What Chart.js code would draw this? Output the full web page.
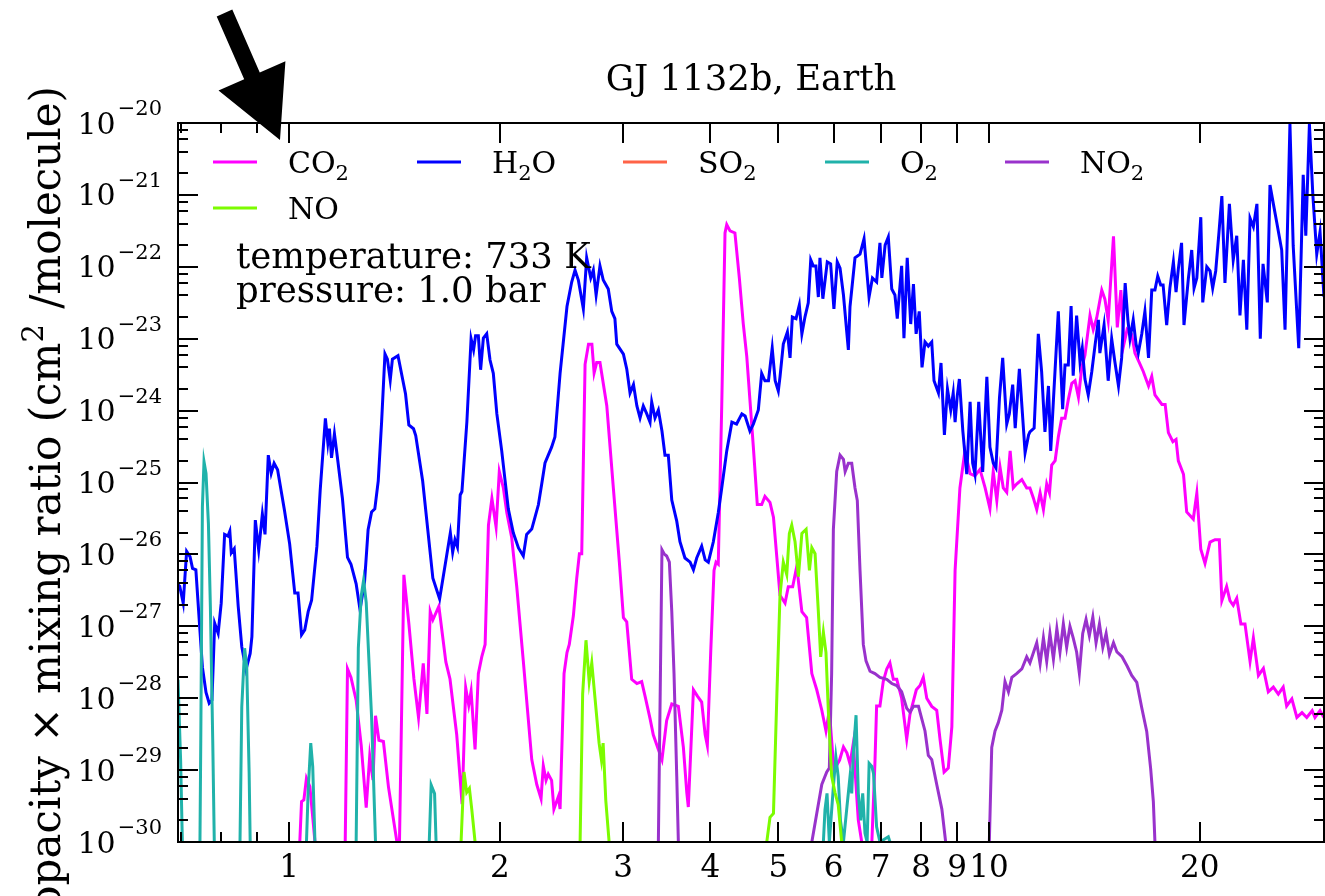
<!DOCTYPE html>
<html>
<head>
<meta charset="utf-8">
<script src="https://cdn.jsdelivr.net/npm/chart.js@4.4.1/dist/chart.umd.min.js"></script>
<style>
  html, body { margin: 0; padding: 0; background: #fff; }
  #wrap { width: 1325px; height: 896px; }
</style>
</head>
<body>
<div id="wrap"><canvas id="chart" width="1325" height="896"></canvas></div>
<script>
// wavelength in micron, opacity x mixing ratio in cm^2/molecule; null = gap (below plot)
const h2oWave = [
  0.694,0.698,0.706,0.714,0.722,0.728,0.736,0.752,0.761,0.769,
  0.776,0.783,0.792,0.800,0.809,0.818,0.823,0.827,0.835,0.846,
  0.856,0.868,0.880,0.885,0.895,0.905,0.916,0.924,0.934,0.943,
  0.952,0.963,0.985,1.002,1.019,1.030,1.042,1.053,1.065,1.077,
  1.096,1.108,1.127,1.136,1.142,1.150,1.161,1.172,1.192,1.212,
  1.226,1.247,1.263,1.282,1.297,1.312,1.326,1.341,1.356,1.371,
  1.382,1.395,1.405,1.431,1.467,1.483,1.506,1.517,1.552,1.605,
  1.641,1.678,1.700,1.713,1.726,1.740,1.756,1.766,1.795,1.820,
  1.835,1.847,1.864,1.878,1.895,1.916,1.937,1.958,1.981,2.013,
  2.035,2.057,2.091,2.127,2.161,2.185,2.222,2.246,2.271,2.296,
  2.321,2.346,2.372,2.398,2.439,2.495,2.534,2.562,2.590,2.633,
  2.662,2.698,2.721,2.746,2.781,2.811,2.858,2.891,2.921,2.939,
  3.004,3.037,3.070,3.105,3.140,3.173,3.207,3.244,3.279,3.297,
  3.333,3.370,3.410,3.444,3.482,3.522,3.580,3.618,3.678,3.741,
  3.782,3.823,3.886,3.931,3.972,4.038,4.104,4.151,4.220,4.292,
  4.359,4.435,4.483,4.554,4.606,4.682,4.734,4.785,4.841,4.901,
  4.949,5.000,5.028,5.083,5.152,5.197,5.236,5.300,5.358,5.403,
  5.458,5.518,5.563,5.609,5.658,5.704,5.734,5.789,5.874,5.939,
  6.004,6.070,6.126,6.195,6.296,6.330,6.435,6.542,6.629,6.739,
  6.815,6.909,6.985,7.029,7.105,7.180,7.262,7.338,7.395,7.502,
  7.559,7.641,7.729,7.799,7.868,7.949,8.022,8.101,8.190,8.283,
  8.345,8.467,8.539,8.635,8.722,8.817,8.889,8.944,9.008,9.071,
  9.175,9.294,9.397,9.476,9.548,9.667,9.794,9.929,10.03,10.14,
  10.23,10.35,10.46,10.60,10.69,10.81,10.90,11.05,11.26,11.39,
  11.44,11.60,11.76,11.89,12.02,12.16,12.25,12.36,12.56,12.74,
  12.84,12.98,13.10,13.19,13.34,13.49,13.59,13.71,13.86,14.02,
  14.18,14.33,14.40,14.60,14.80,14.97,15.13,15.31,15.47,15.65,
  15.79,15.90,16.07,16.22,16.34,16.53,16.70,16.90,17.08,17.26,
  17.42,17.59,17.73,17.94,18.13,18.34,18.50,18.64,18.84,18.99,
  19.27,19.48,19.63,19.81,20.07,20.20,20.47,20.69,20.87,21.08,
  21.31,21.51,21.73,22.05,22.33,22.59,22.83,23.09,23.35,23.60,
  23.86,24.14,24.41,24.63,24.98,25.20,25.48,25.76,26.19,26.48,
  26.91,27.20,27.70,28.11,28.35,28.69,29.01,29.39,29.71,30.10
];
const h2oOpac = [
  3.8e-27,3.6e-27,2.1e-27,1.1e-26,9.3e-27,6.4e-27,6.1e-27,2.7e-28,1.2e-28,8.5e-29,
  9.4e-29,1.1e-27,8.0e-28,2.1e-27,1.9e-26,1.8e-26,2.1e-26,1.05e-26,1.2e-26,1.9e-27,
  5.2e-28,2.5e-28,4.2e-28,7.2e-28,3.0e-26,1.15e-26,3.65e-26,1.9e-26,2.4e-25,1.34e-25,
  1.85e-25,1.5e-25,4.1e-26,1.4e-26,2.9e-27,2.9e-27,7.6e-28,8.9e-28,1.6e-27,2.3e-27,
  1.3e-26,7.9e-26,7.8e-25,3.6e-25,5.6e-25,2.2e-25,4.75e-25,2.3e-25,6.0e-26,9.1e-27,
  7.3e-27,3.9e-27,1.7e-27,4.2e-27,2.2e-26,3.9e-26,4.3e-26,1.05e-25,7.0e-25,6.15e-24,
  5.2e-24,2.65e-24,5.2e-24,5.8e-24,1.7e-24,6.3e-25,5.6e-25,4.5e-25,1.05e-25,4.65e-27,
  2.4e-27,9.1e-27,2.0e-26,1.07e-26,1.6e-26,1.27e-26,6.7e-26,7.5e-26,7.0e-25,1.0e-23,
  7.0e-24,1.1e-23,1.1e-23,3.7e-24,1.02e-23,1.17e-23,5.05e-24,3.3e-24,9.0e-25,2.75e-25,
  1.08e-25,4.3e-26,2.0e-26,1.23e-26,9.5e-27,1.9e-26,2.25e-26,3.3e-26,4.9e-26,9.5e-26,
  1.87e-25,2.4e-25,3.1e-25,4.3e-25,3.3e-24,2.8e-23,6.15e-23,9.0e-23,6.55e-23,2.6e-23,
  1.33e-22,7.0e-23,9.0e-23,4.05e-23,1.03e-22,6.55e-23,4.9e-23,2.4e-23,1.9e-23,8.4e-24,
  6.1e-24,3.8e-24,1.76e-24,2.3e-24,1.16e-24,7.9e-25,1.16e-24,9.0e-25,6.9e-25,1.32e-24,
  7.9e-25,1.02e-24,5.2e-25,2.4e-25,2.4e-25,5.7e-26,2.9e-26,1.5e-26,8.9e-27,7.8e-27,
  6.1e-27,8.9e-27,1.3e-26,8.4e-27,7.8e-27,1.5e-26,3.8e-26,8.4e-26,2.75e-25,6.9e-25,
  6.5e-25,9.0e-25,8.4e-25,5.2e-25,6.5e-25,1.02e-24,3.3e-24,2.6e-24,2.6e-24,7.4e-24,
  2.6e-24,1.87e-24,2.95e-24,8.4e-24,1.24e-23,5.4e-24,2.0e-23,1.9e-23,2.95e-23,1.16e-23,
  2.0e-23,3.15e-23,1.25e-22,1.03e-22,1.03e-22,3.8e-23,1.33e-22,3.6e-23,1.17e-22,1.1e-22,
  2.6e-23,1.17e-22,9.6e-23,4.05e-23,7.0e-24,2.8e-23,1.33e-22,1.5e-22,2.45e-22,3.8e-23,
  7.0e-23,6.15e-23,2.15e-22,7.0e-23,2.0e-22,2.6e-22,4.9e-23,4.05e-23,1.9e-23,1.03e-22,
  1.02e-23,1.33e-22,1.6e-23,5.75e-23,1.17e-23,2.4e-23,4.0e-24,9.0e-24,7.9e-24,9.0e-24,
  2.6e-24,1.76e-24,4.6e-24,4.6e-25,2.0e-24,1.02e-24,1.76e-24,6.9e-25,1.6e-24,2.75e-24,
  5.2e-25,1.31e-25,1.32e-24,1.87e-25,1.31e-25,1.32e-24,1.4e-25,2.95e-24,3.1e-25,1.87e-25,
  1.6e-25,1.5e-24,5.4e-24,6.5e-25,9.0e-25,2.3e-24,5.7e-25,3.8e-24,2.6e-25,4.6e-25,
  5.05e-25,5.7e-25,1.17e-23,3.45e-24,5.05e-25,2.2e-24,2.75e-25,1.4e-24,2.4e-23,1.05e-24,
  4.3e-24,4.3e-24,2.85e-23,3.05e-24,2.1e-23,4.75e-24,7.4e-24,2.75e-24,1.65e-24,3.45e-24,
  8.4e-24,1.83e-23,6.3e-24,1.55e-23,2.6e-24,1.0e-23,4.75e-24,2.2e-24,5.4e-24,5.95e-23,
  1.83e-23,1.0e-23,1.83e-23,8.4e-24,6.3e-24,1.17e-23,2.4e-23,5.4e-24,4.75e-23,4.75e-23,
  7.45e-23,5.6e-23,5.6e-23,1.55e-23,5.05e-23,1.17e-22,4.45e-23,9.3e-23,2.15e-22,1.55e-23,
  7.0e-23,1.71e-22,5.05e-23,7.0e-23,4.9e-22,3.2e-23,1.0e-22,8.75e-23,5.05e-23,8.75e-23,
  3.05e-22,9.65e-22,5.95e-23,7.5e-22,1.25e-22,2.7e-22,2.1e-23,1.25e-22,1.33e-23,4.75e-22,
  3.6e-22,7.5e-22,1.0e-23,1.1e-22,3.2e-23,1.37e-21,7.5e-22,4.2e-22,1.71e-22,1.33e-23,
  9.7e-21,1.95e-22,7.4e-24,1.9e-21,2.7e-22,9.7e-21,1.03e-21,1.5e-22,3.05e-22,3.8e-23
];

const co2Wave = [
  1.036,1.042,1.050,1.059,1.071,1.083,1.089, null,
  1.203,1.212,1.226,1.247,1.268,1.289,1.304,1.318,1.329,1.344,1.364,1.387,1.426, null,
  1.438,1.459,1.483,1.508,1.531,1.555,1.574,1.591,1.605,1.637,
  1.675,1.698,1.736,1.767,1.788,1.806,1.820,1.844,1.864,1.885,
  1.906,1.927,1.949,1.976,1.997,2.024,2.047,2.080,2.115,2.161,
  2.222,2.259,2.291,2.308,2.329,2.346,2.372,2.390,2.425,2.439,
  2.471,2.495,2.514,2.548,2.576,2.599,2.619,2.648,2.678,2.708,
  2.728,2.751,2.781,2.844,2.906,2.964,3.004,3.037,3.087,3.140,
  3.190,3.225,3.279,3.314,3.370,3.410,3.463,3.522,3.599,3.659,
  3.700,3.719,3.782,3.830,3.886,3.931,3.959,4.003,4.047,4.074,
  4.104,4.151,4.196,4.220,4.266,4.335,4.399,4.455,4.507,4.606,
  4.666,4.734,4.785,4.865,4.921,4.977,5.028,5.112,5.167,5.242,
  5.313,5.403,5.488,5.583,5.674,5.769,5.849,5.914,6.004,6.117,
  6.195,6.267,6.330,6.399,6.505,6.579, null,
  6.802,6.871,6.909,6.985,7.061,7.143,7.218,7.300,7.382,7.502,
  7.628,7.710,7.873,7.970,8.056,8.148,8.283,8.420,8.511,8.626,
  8.746,8.849,8.944,9.087,9.238,9.397,9.548,9.707,9.873,10.03,
  10.14,10.26,10.37,10.48,10.60,10.72,10.83,10.95,11.14,11.32,
  11.44,11.57,11.70,11.83,11.96,12.09,12.20,12.29,12.43,12.56,
  12.70,12.84,12.98,13.13,13.27,13.42,13.57,13.71,13.94,14.09,
  14.25,14.49,14.64,14.80,15.06,15.25,15.43,15.59,15.75,15.99,
  16.16,16.39,16.61,16.90,17.08,17.26,17.66,17.85,18.04,18.31,
  18.50,18.64,18.96,19.16,19.58,19.81,20.07,20.35,20.69,21.03,
  21.33,21.51,21.85,22.09,22.33,22.59,22.90,23.21,23.60,23.86,
  24.26,24.66,25.06,25.48,25.90,26.32,26.62,27.08,27.53,28.00,
  28.44,28.95,29.22,29.71,30.10
];
const co2Opac = [
  1e-30,3.65e-30,3.85e-30,7.7e-30,5.9e-30,1.82e-30,1e-30, null,
  1e-30,2.57e-28,1.95e-28,9.4e-29,2.2e-29,3.0e-30,1.58e-29,7.3e-30,5.7e-29,2.6e-29,2.5e-29,5.8e-30,1e-30, null,
  1e-30,5.2e-27,1.1e-27,1.85e-28,5.4e-29,3.05e-28,6.05e-29,1.6e-27,1.23e-27,1.9e-27,
  3.2e-28,1.85e-28,3.1e-29,3.35e-30,1.4e-28,8.0e-29,1.25e-28,1.94e-29,2.2e-28,3.76e-28,
  5.6e-28,2.55e-26,6.0e-26,2.4e-26,1.42e-25,8.4e-26,3.8e-26,1.72e-26,3.55e-27,3.3e-28,
  1.4e-29,6.3e-30,4.0e-30,1.15e-29,7.2e-30,8.8e-30,7.2e-30,2.87e-30,4.26e-30,2.87e-30,
  2.2e-28,4.3e-28,5.6e-28,1.4e-27,4.6e-27,1.02e-26,1.02e-26,4.4e-24,8.4e-24,8.4e-24,
  3.35e-24,4.65e-24,4.65e-24,1.17e-24,8.4e-26,7.8e-27,1.32e-27,1.15e-27,1.83e-28,1.6e-28,
  1.7e-28,1.08e-28,5.2e-29,3.1e-29,1.94e-29,1.4e-29,4.9e-29,8.3e-29,7.7e-29,2.07e-29,
  4.9e-30,3.07e-30,1.31e-28,1.08e-28,8.85e-29,3.1e-29,2.2e-29,4.3e-28,6.0e-27,7.8e-27,
  7.3e-27,1.17e-24,2.96e-22,3.85e-22,3.16e-22,2.96e-22,6.9e-23,1.63e-23,5.7e-24,3.1e-25,
  4.95e-26,4.95e-26,6.4e-26,5.3e-26,3.3e-26,8.9e-27,2.7e-27,2.1e-27,3.55e-27,3.55e-27,
  6.8e-27,1.6e-27,1.32e-27,2.2e-28,1.31e-28,6.8e-29,3.5e-29,6.8e-29,1.0e-29,1.38e-29,
  2.1e-29,1.73e-29,1.22e-29,2.37e-29,2.02e-30,1e-30, null,
  1e-30,1.26e-29,7.8e-29,7.8e-29,1.7e-28,2.55e-28,3.1e-28,1.83e-28,1.83e-28,1.0e-28,
  2.7e-29,5.95e-29,1.31e-28,1.5e-28,1.95e-28,1.0e-28,7.7e-29,6.8e-29,2.7e-29,9.4e-30,
  1.07e-29,4.0e-29,6.0e-27,8.4e-26,2.75e-25,1.33e-25,1.24e-25,1.52e-25,8.4e-26,4.35e-26,
  1.42e-25,5.6e-26,1.62e-25,8.4e-26,7.3e-26,2.75e-25,8.4e-26,9.5e-26,1.1e-25,8.4e-26,
  8.4e-26,6.1e-26,4.2e-26,7.15e-26,4.2e-26,9.5e-26,7.15e-26,1.75e-25,2.02e-25,4.3e-25,
  7.8e-25,7.8e-25,1.42e-24,2.4e-24,2.6e-24,1.53e-24,4.0e-24,5.9e-24,2.1e-23,1.34e-23,
  1.94e-23,4.75e-23,3.55e-23,1.8e-23,2.65e-22,1.44e-23,4.75e-23,8.55e-24,1.34e-23,1.15e-23,
  6.3e-24,4.7e-24,3.5e-24,2.2e-24,3.0e-24,1.65e-24,1.22e-24,1.22e-24,4.95e-25,3.7e-25,
  3.98e-25,2.0e-25,1.3e-25,3.9e-26,3.1e-26,7.1e-26,1.18e-26,7.5e-27,1.48e-26,1.6e-26,
  1.6e-26,2.27e-27,3.57e-27,2.27e-27,1.96e-27,2.45e-27,1.08e-27,1.08e-27,3.25e-28,6.9e-28,
  2.07e-28,2.6e-28,1.23e-28,1.43e-28,1.14e-28,1.43e-28,7.8e-29,9.8e-29,5.4e-29,6.3e-29,
  5.4e-29,6.7e-29,5.4e-29,6.7e-29,5.4e-29
];

const so2Wave = [];
const so2Opac = [];

const o2Wave = [
  0.694,0.700,0.704, null,
  0.746,0.748,0.752,0.756,0.761,0.767,0.772,0.778,0.782, null,
  0.851,0.856,0.864,0.870,0.877,0.880, null,
  1.059,1.065,1.074,1.081,1.089, null,
  1.247,1.256,1.268,1.278,1.289,1.312,1.329, null,
  1.586,1.596,1.614,1.622, null,
  5.799,5.830,5.869,5.914,5.993,6.042,6.089,6.134,6.195,6.267,
  6.330,6.366,6.399,6.457,6.505,6.557,6.600,6.650,6.697,6.741,
  6.802,6.839,6.909,6.985,7.180,7.220
];
const o2Opac = [
  1.8e-28,1.38e-29,1e-30, null,
  1e-30,2.6e-29,4.6e-26,1.95e-25,1.34e-25,2.7e-26,1.87e-27,2.6e-29,1e-30, null,
  1e-30,7.6e-29,4.95e-28,2.75e-28,9.0e-30,1e-30, null,
  1e-30,5.3e-30,2.37e-29,1.12e-29,1e-30, null,
  1e-30,5.0e-28,2.65e-27,4.4e-27,2.14e-27,5.4e-29,1e-30, null,
  1e-30,6.2e-30,4.7e-30,1e-30, null,
  1e-30,2.8e-30,4.75e-30,1e-30,5.9e-30,1.53e-29,8.1e-30,2.0e-30,1e-30,3.1e-30,
  8.1e-30,4.75e-30,1.71e-29,5.8e-29,4.75e-30,2.0e-30,4.75e-30,1.32e-30,1e-30,1.24e-29,
  1.12e-29,9.0e-30,1.63e-30,1e-30,1.18e-30,1e-30
];

const no2Wave = [
  3.370,3.410,3.434,3.463,3.494,3.522,3.548,3.580,3.599, null,
  5.583,5.674,5.769,5.864,5.914,5.959,5.993,6.059,6.126,6.195,
  6.230,6.296,6.366,6.435,6.484,6.542,6.613,6.672,6.761,6.871,
  6.985,7.143,7.262,7.382,7.502,7.628,7.710,7.799,7.929,8.014,
  8.101,8.190,8.283,8.420,8.563,8.671, null,
  10.01,10.09,10.20,10.31,10.43,10.54,10.66,10.78,10.95,11.14,
  11.32,11.44,11.70,11.83,11.96,12.09,12.22,12.36,12.50,12.63,
  12.77,12.91,13.05,13.19,13.34,13.46,13.61,13.76,13.91,14.07,
  14.22,14.38,14.54,14.70,14.86,15.06,15.23,15.49,15.75,15.99,
  16.26,16.53,16.80,17.02,17.17,17.26
];
const no2Opac = [
  1e-30,1.16e-26,1.02e-26,9.5e-27,7.8e-27,1.6e-27,2.2e-28,8.25e-30,1e-30, null,
  1e-30,2.5e-30,6.3e-30,9.4e-30,1.07e-29,2.2e-28,2.24e-26,1.42e-25,2.4e-25,2.1e-25,
  1.42e-25,1.85e-25,1.85e-25,8.4e-26,5.6e-26,6.0e-27,5.6e-28,3.3e-28,2.37e-28,2.2e-28,
  1.95e-28,1.83e-28,1.6e-28,1.5e-28,1.23e-28,7.26e-29,6.4e-29,7.7e-29,7.7e-29,5.2e-29,
  3.5e-29,1.6e-29,1.4e-29,6.3e-30,2.87e-30,1e-30, null,
  1e-30,2.07e-29,3.5e-29,4.57e-29,6.8e-29,1.7e-28,1.23e-28,1.95e-28,2.2e-28,2.55e-28,
  3.76e-28,3.1e-28,5.9e-28,3.0e-28,6.9e-28,3.25e-28,7.95e-28,3.5e-28,9.26e-28,4.4e-28,
  1.08e-27,5.1e-28,1.0e-27,6.9e-28,4.4e-28,2.23e-28,7.95e-28,1.25e-27,7.4e-28,1.35e-27,
  5.9e-28,1.08e-27,5.1e-28,7.95e-28,4.06e-28,5.9e-28,4.4e-28,3.77e-28,2.8e-28,2.07e-28,
  1.66e-28,7.3e-29,3.45e-29,1.04e-29,3.65e-30,1e-30
];

const noWave = [
  1.761,1.778,1.794,1.810,1.824,1.844, null,
  2.605,2.627,2.656,2.684,2.707,2.736,2.773,2.794,2.810,2.835,2.866, null,
  4.814,4.865,4.921,4.977,5.028,5.083,5.141,5.185,5.226,5.283,
  5.342,5.403,5.479,5.539,5.583,5.643,5.704,5.748,5.799,5.849,
  5.894,5.959,6.024,6.089,6.159
];
const noOpac = [
  1e-30,9.4e-30,4.9e-30,5.55e-30,2.87e-30,1e-30, null,
  1e-30,1.15e-28,6.4e-28,1.7e-28,3.1e-28,1.0e-28,2.37e-29,1.4e-29,2.37e-29,3.74e-30,1e-30, null,
  1e-30,2.2e-30,2.5e-30,1.15e-28,2.7e-27,7.8e-27,5.25e-27,1.96e-26,2.55e-26,1.5e-26,
  4.9e-27,1.96e-26,2.24e-26,6.0e-27,1.24e-26,1.02e-26,1.6e-27,3.76e-28,8.3e-28,4.3e-28,
  6.8e-29,8.25e-30,4.9e-30,3.3e-30,1e-30
];

// axis ticks
const xMajorTicks = [1, 2, 3, 4, 5, 6, 7, 8, 9, 10, 20];
const xTickLabels = ['1', '2', '3', '4', '5', '6', '7', '8', '9', '10', '20'];
const xMinorTicks = [0.7, 0.8, 0.9];
const yTickExponents = [-20, -21, -22, -23, -24, -25, -26, -27, -28, -29, -30];
const yMinorMantissas = [2, 4, 6, 8];

const series = [
  { name: 'CO', sub: '2', tail: '', color: '#ff00ff', wave: co2Wave, opac: co2Opac },
  { name: 'H', sub: '2', tail: 'O', color: '#0000ff', wave: h2oWave, opac: h2oOpac },
  { name: 'SO', sub: '2', tail: '', color: '#ff6347', wave: so2Wave, opac: so2Opac },
  { name: 'O', sub: '2', tail: '', color: '#20b2aa', wave: o2Wave, opac: o2Opac },
  { name: 'NO', sub: '2', tail: '', color: '#9932cc', wave: no2Wave, opac: no2Opac },
  { name: 'NO', sub: '', tail: '', color: '#7cfc00', wave: noWave, opac: noOpac }
];

const SERIF = '"DejaVu Serif", "Liberation Serif", serif';

// draws a run of [text, size, dy, extraGap] pieces; returns width
function drawRun(ctx, pieces, x, y, align) {
  let w = 0;
  pieces.forEach(p => { ctx.font = `${p[1]}px ${SERIF}`; w += ctx.measureText(p[0]).width + (p[3] || 0); });
  let cx = align === 'right' ? x - w : align === 'center' ? x - w / 2 : x;
  ctx.textAlign = 'left';
  ctx.textBaseline = 'alphabetic';
  pieces.forEach(p => {
    ctx.font = `${p[1]}px ${SERIF}`;
    ctx.fillText(p[0], cx, y + (p[2] || 0));
    cx += ctx.measureText(p[0]).width + (p[3] || 0);
  });
  return w;
}

const decor = {
  id: 'decor',
  afterDraw(chart) {
    const { ctx, chartArea: a, scales: { x, y } } = chart;
    ctx.save();
    ctx.fillStyle = '#000';
    ctx.strokeStyle = '#000';

    // frame
    ctx.lineWidth = 2;
    ctx.strokeRect(a.left, a.top, a.right - a.left, a.bottom - a.top);

    // ticks (inward, both sides)
    ctx.beginPath();
    const xTick = (v, len) => {
      const px = Math.round(x.getPixelForValue(v));
      if (px <= a.left + 1 || px >= a.right - 1) return;
      ctx.moveTo(px, a.bottom); ctx.lineTo(px, a.bottom - len);
      ctx.moveTo(px, a.top); ctx.lineTo(px, a.top + len);
    };
    xMajorTicks.forEach(v => xTick(v, 20));
    xMinorTicks.forEach(v => xTick(v, 10));
    const yTick = (v, len) => {
      const py = Math.round(y.getPixelForValue(v));
      ctx.moveTo(a.left, py); ctx.lineTo(a.left + len, py);
      ctx.moveTo(a.right, py); ctx.lineTo(a.right - len, py);
    };
    yTickExponents.forEach(e => {
      yTick(Math.pow(10, e), 20);
      if (e === -20) return;
      yMinorMantissas.forEach(m => yTick(m * Math.pow(10, e), 10));
    });
    ctx.stroke();

    // tick labels
    xMajorTicks.forEach((v, i) => {
      drawRun(ctx, [[xTickLabels[i], 31]], x.getPixelForValue(v), a.bottom + 35, 'center');
    });
    yTickExponents.forEach(e => {
      const py = y.getPixelForValue(Math.pow(10, e));
      drawRun(ctx, [['10', 30, 0, 2], ['\u2212' + String(-e), 21, -18.5]], 162, py + 10.5, 'right');
    });

    // title
    drawRun(ctx, [['GJ 1132b, Earth', 35.5]], (a.left + a.right) / 2, 90, 'center');

    // y label (rotated)
    ctx.save();
    ctx.translate(60, 86);
    ctx.rotate(-Math.PI / 2);
    const lab = [['opacity \u00d7 mixing ratio (cm', 42], ['2', 29, -17, 2], [' /molecule)', 42]];
    let lw = 0;
    lab.forEach(p => { ctx.font = `${p[1]}px ${SERIF}`; lw += ctx.measureText(p[0]).width + (p[3] || 0); });
    drawRun(ctx, lab, -lw, 0, 'left');
    ctx.restore();

    // legend
    const cols = [213, 417, 623, 825, 1005];
    series.forEach((s, i) => {
      const row = Math.floor(i / 5), col = i % 5;
      const hx = cols[col], hy = 162 + row * 46;
      ctx.strokeStyle = s.color;
      ctx.lineWidth = 3;
      ctx.beginPath(); ctx.moveTo(hx, hy); ctx.lineTo(hx + 44, hy); ctx.stroke();
      ctx.fillStyle = '#000';
      const pieces = [[s.name, 30]];
      if (s.sub) pieces.push([s.sub, 21, 7]);
      if (s.tail) pieces.push([s.tail, 30]);
      drawRun(ctx, pieces, hx + 75, hy + 11, 'left');
    });

    // annotation text
    drawRun(ctx, [['temperature: 733 K', 35.5]], 236, 268, 'left');
    drawRun(ctx, [['pressure: 1.0 bar', 35.5]], 236, 302, 'left');

    // arrow
    const tail = [224.5, 13], tip = [280, 140];
    const dx = tip[0] - tail[0], dy = tip[1] - tail[1], len = Math.hypot(dx, dy);
    const ux = dx / len, uy = dy / len, qx = uy, qy = -ux;
    const sw = 8.5, hw = 36.5, hl = 70;
    const bx = tip[0] - ux * hl, by = tip[1] - uy * hl;
    ctx.fillStyle = '#000';
    ctx.beginPath();
    ctx.moveTo(tail[0] + qx * sw, tail[1] + qy * sw);
    ctx.lineTo(bx + qx * sw, by + qy * sw);
    ctx.lineTo(bx + qx * hw, by + qy * hw);
    ctx.lineTo(tip[0], tip[1]);
    ctx.lineTo(bx - qx * hw, by - qy * hw);
    ctx.lineTo(bx - qx * sw, by - qy * sw);
    ctx.lineTo(tail[0] - qx * sw, tail[1] - qy * sw);
    ctx.closePath();
    ctx.fill();

    ctx.restore();
  }
};

// matplotlib draws later series on top; chart.js draws dataset 0 on top
const datasets = series.map((s, i) => ({
  label: s.name + s.sub + s.tail,
  data: s.wave.map((w, j) => ({ x: w, y: s.opac[j] })),
  borderColor: s.color,
  backgroundColor: s.color,
  borderWidth: 3,
  pointRadius: 0,
  tension: 0,
  fill: false,
  spanGaps: false,
  order: series.length - i
}));

new Chart(document.getElementById('chart'), {
  type: 'line',
  data: { datasets },
  options: {
    responsive: false,
    animation: false,
    devicePixelRatio: 1,
    layout: { padding: { top: 123, right: 1, left: 0, bottom: 0 } },
    plugins: { legend: { display: false }, tooltip: { enabled: false }, title: { display: false } },
    scales: {
      x: {
        type: 'logarithmic', position: 'bottom', min: 0.694, max: 30.1,
        ticks: { display: false }, grid: { display: false }, border: { display: false },
        afterFit: (s) => { s.height = 54; }
      },
      y: {
        type: 'logarithmic', position: 'left', min: 1e-30, max: 1e-20,
        ticks: { display: false }, grid: { display: false }, border: { display: false },
        afterFit: (s) => { s.width = 178; }
      }
    }
  },
  plugins: [decor]
});
</script>
</body>
</html>
